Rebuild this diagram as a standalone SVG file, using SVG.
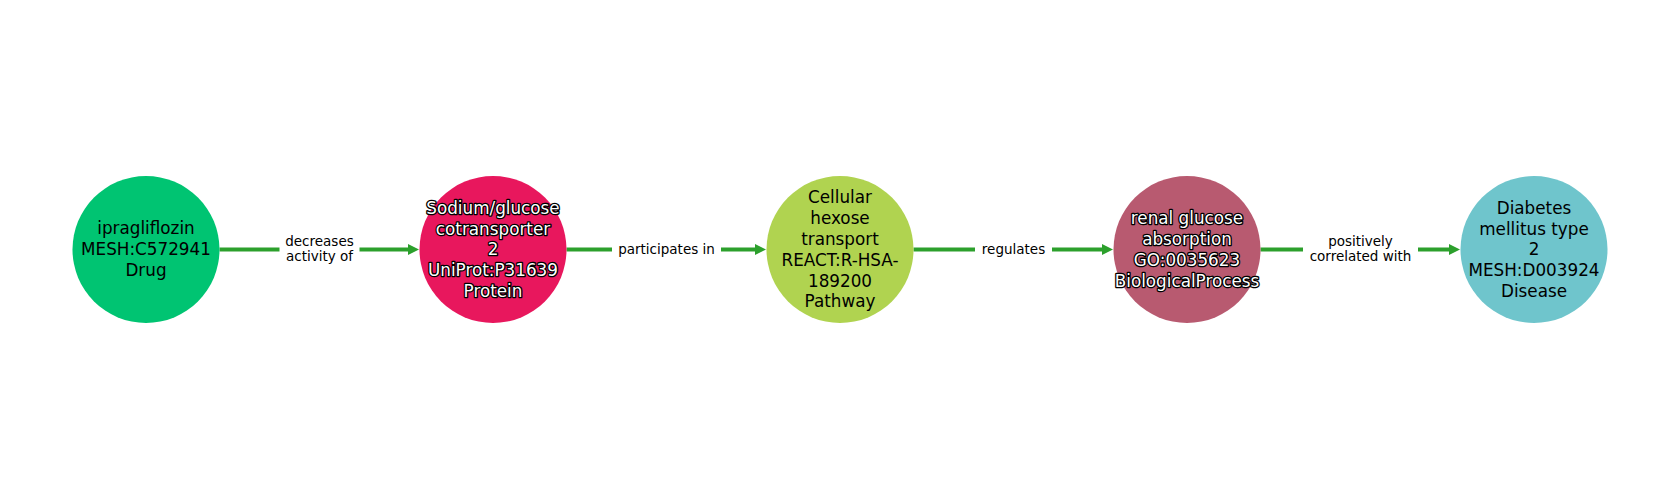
<svg xmlns="http://www.w3.org/2000/svg" width="1680" height="500" viewBox="0 0 1680 500">
<defs>
<marker id="arr" viewBox="0 0 11 11" refX="0" refY="5.5" markerWidth="11" markerHeight="11" markerUnits="userSpaceOnUse" orient="auto">
<path d="M0,0 L11,5.5 L0,11 z" fill="#2ca02c"/>
</marker>
<style>
.edge{stroke:#2ca02c;stroke-width:4;fill:none}
.lblbg{fill:#ffffff}
.elbl{font-family:"DejaVu Sans",sans-serif;font-size:13.5px;fill:#000;text-anchor:middle}
.nlbl{font-family:"DejaVu Sans",sans-serif;font-size:16.8px;fill:#000;text-anchor:middle}
.olbl{font-family:"DejaVu Sans",sans-serif;font-size:16.8px;fill:#fff;stroke:#000;stroke-width:2.6;stroke-linejoin:round;paint-order:stroke;text-anchor:middle}
</style>
</defs>
<rect width="1680" height="500" fill="#ffffff"/>
<g id="connectors">
<path class="edge" d="M219.5,249.5 H408" marker-end="url(#arr)"/>
<rect class="lblbg" x="279.5" y="232" width="80" height="35"/>
<text class="elbl" x="319.5" y="245.6">decreases</text>
<text class="elbl" x="319.5" y="261.3">activity of</text>
<path class="edge" d="M566.5,249.5 H755" marker-end="url(#arr)"/>
<rect class="lblbg" x="612" y="240" width="109" height="19"/>
<text class="elbl" x="666.5" y="254.2">participates in</text>
<path class="edge" d="M913.5,249.5 H1102" marker-end="url(#arr)"/>
<rect class="lblbg" x="975" y="240" width="77" height="19"/>
<text class="elbl" x="1013.5" y="254.2">regulates</text>
<path class="edge" d="M1260.5,249.5 H1449" marker-end="url(#arr)"/>
<rect class="lblbg" x="1303" y="232" width="115" height="35"/>
<text class="elbl" x="1360.5" y="245.6">positively</text>
<text class="elbl" x="1360.5" y="261.3">correlated with</text>
</g>
<g id="node-ipragliflozin">
<circle cx="146" cy="249.5" r="73.5" fill="#00c472"/>
<text class="nlbl" x="146" y="234.4">ipragliflozin</text>
<text class="nlbl" x="146" y="255.4">MESH:C572941</text>
<text class="nlbl" x="146" y="276.4">Drug</text>
</g>
<g id="node-sglt2">
<circle cx="493" cy="249.5" r="73.5" fill="#e8175d"/>
<text class="olbl" x="493" y="213.8">Sodium/glucose</text>
<text class="olbl" x="493" y="234.6">cotransporter</text>
<text class="olbl" x="493" y="255.4">2</text>
<text class="olbl" x="493" y="276.2">UniProt:P31639</text>
<text class="olbl" x="493" y="297">Protein</text>
</g>
<g id="node-hexose">
<circle cx="840" cy="249.5" r="73.5" fill="#b0d350"/>
<text class="nlbl" x="840" y="203.4">Cellular</text>
<text class="nlbl" x="840" y="224.2">hexose</text>
<text class="nlbl" x="840" y="245">transport</text>
<text class="nlbl" x="840" y="265.8">REACT:R-HSA-</text>
<text class="nlbl" x="840" y="286.6">189200</text>
<text class="nlbl" x="840" y="307.4">Pathway</text>
</g>
<g id="node-renal">
<circle cx="1187" cy="249.5" r="73.5" fill="#b85a70"/>
<text class="olbl" x="1187" y="224.2">renal glucose</text>
<text class="olbl" x="1187" y="245">absorption</text>
<text class="olbl" x="1187" y="265.8">GO:0035623</text>
<text class="olbl" x="1187" y="286.6">BiologicalProcess</text>
</g>
<g id="node-diabetes">
<circle cx="1534" cy="249.5" r="73.5" fill="#6fc5cc"/>
<text class="nlbl" x="1534" y="213.8">Diabetes</text>
<text class="nlbl" x="1534" y="234.6">mellitus type</text>
<text class="nlbl" x="1534" y="255.4">2</text>
<text class="nlbl" x="1534" y="276.2">MESH:D003924</text>
<text class="nlbl" x="1534" y="297">Disease</text>
</g>
</svg>
